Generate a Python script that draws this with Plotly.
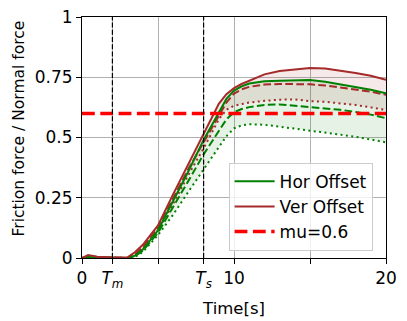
"""Friction force / normal force, Hor vs Ver offset"""
import plotly.graph_objects as go

# time axis (s)
time_s = [0, 0.4, 1, 2, 3, 3.5, 4, 5, 6, 7, 8, 9, 9.5, 10, 10.5, 11,
          12, 13, 14, 15, 16, 17, 18, 19, 20]

# Hor Offset (green): solid / dashed / dotted
hor_solid = [0, 0.004, 0.002, 0.001, 0.0, 0.01, 0.035, 0.115, 0.235, 0.36, 0.49,
             0.60, 0.66, 0.695, 0.712, 0.724, 0.733, 0.735, 0.736, 0.739,
             0.731, 0.721, 0.71, 0.698, 0.684]
hor_dashed = [0, 0.002, 0.001, 0.0, 0.0, 0.008, 0.03, 0.105, 0.21, 0.32, 0.43,
              0.53, 0.575, 0.605, 0.618, 0.626, 0.635, 0.637, 0.632, 0.626,
              0.62, 0.615, 0.606, 0.595, 0.58]
hor_dotted = [0, 0.002, 0.001, 0.0, 0.0, 0.005, 0.025, 0.095, 0.18, 0.275, 0.37,
              0.46, 0.505, 0.538, 0.55, 0.555, 0.553, 0.545, 0.537, 0.531,
              0.522, 0.512, 0.503, 0.493, 0.48]

# Ver Offset (brown): solid / dashed / dotted
ver_solid = [0, 0.012, 0.005, 0.002, 0.003, 0.025, 0.055, 0.135, 0.265, 0.39, 0.52,
             0.64, 0.68, 0.705, 0.722, 0.735, 0.762, 0.776, 0.782, 0.788,
             0.786, 0.778, 0.768, 0.756, 0.74]
ver_dashed = [0, 0.008, 0.004, 0.002, 0.0, 0.015, 0.045, 0.125, 0.245, 0.37, 0.48,
              0.59, 0.645, 0.682, 0.70, 0.71, 0.72, 0.722, 0.722, 0.721,
              0.716, 0.708, 0.70, 0.69, 0.677]
ver_dotted = [0, 0.006, 0.003, 0.001, 0.0, 0.012, 0.04, 0.115, 0.225, 0.345, 0.455,
              0.575, 0.615, 0.632, 0.64, 0.645, 0.652, 0.657, 0.658, 0.651,
              0.648, 0.643, 0.635, 0.625, 0.614]

mu = 0.6
t_m = 2
t_s = 8

x_tickvals = [0, t_m, 5, t_s, 10, 15, 20]
x_ticktext = ["0", "<i>T<sub>m</sub></i>", "", "<i>T<sub>s</sub></i>", "10", "", "20"]
y_tickvals = [0, 0.25, 0.5, 0.75, 1]
y_ticktext = ["0", "0.25", "0.5", "0.75", "1"]

GREEN = "#008000"
BROWN = "#a52a2a"
FONT = "DejaVu Sans"

fig = go.Figure()

# shaded bands (dotted -> solid)
for low, high, fc in [(ver_dotted, ver_solid, "rgba(165,42,42,0.10)"),
                      (hor_dotted, hor_solid, "rgba(0,128,0,0.10)")]:
    fig.add_trace(go.Scatter(x=time_s, y=low, mode="lines", line=dict(width=0),
                             showlegend=False, hoverinfo="skip"))
    fig.add_trace(go.Scatter(x=time_s, y=high, mode="lines", line=dict(width=0),
                             fill="tonexty", fillcolor=fc,
                             showlegend=False, hoverinfo="skip"))

dash_pat = "7.7px,3.3px"
dot_pat = "2px,3.4px"

fig.add_trace(go.Scatter(x=time_s, y=ver_dotted, mode="lines", showlegend=False,
                         line=dict(color=BROWN, width=2, dash=dot_pat)))
fig.add_trace(go.Scatter(x=time_s, y=hor_dotted, mode="lines", showlegend=False,
                         line=dict(color=GREEN, width=2, dash=dot_pat)))
fig.add_trace(go.Scatter(x=time_s, y=ver_dashed, mode="lines", showlegend=False,
                         line=dict(color=BROWN, width=2, dash=dash_pat)))
fig.add_trace(go.Scatter(x=time_s, y=hor_dashed, mode="lines", showlegend=False,
                         line=dict(color=GREEN, width=2, dash=dash_pat)))
fig.add_trace(go.Scatter(x=time_s, y=hor_solid, mode="lines", name="Hor Offset",
                         line=dict(color=GREEN, width=2)))
fig.add_trace(go.Scatter(x=time_s, y=ver_solid, mode="lines", name="Ver Offset",
                         line=dict(color=BROWN, width=2)))
fig.add_trace(go.Scatter(x=[0, 20], y=[mu, mu], mode="lines", name="mu=0.6",
                         line=dict(color="red", width=3.5, dash="12.8px,5.5px")))

for tv in [t_m, t_s]:
    fig.add_vline(x=tv, line=dict(color="black", width=1.2, dash="5px,2.2px"))

axis_common = dict(
    showline=True, mirror=True, linecolor="black", linewidth=1.1,
    showgrid=True, gridcolor="#b0b0b0", gridwidth=1.1, zeroline=False,
    ticks="outside", ticklen=5, tickcolor="black", tickwidth=1.1,
    tickfont=dict(size=17, color="black", family=FONT),
    ticklabeloverflow="allow", automargin=False,
)

fig.update_xaxes(range=[0, 20], tickmode="array", tickvals=x_tickvals,
                 ticktext=x_ticktext,
                 title=dict(text="Time[s]", standoff=12,
                            font=dict(size=16.5, color="black", family=FONT)),
                 **axis_common)
fig.update_yaxes(range=[0, 1], tickmode="array", tickvals=y_tickvals,
                 ticktext=y_ticktext, **axis_common)

# y label as an annotation so it can sit slightly above centre like the original
fig.add_annotation(text="Friction force / Normal force", textangle=-90,
                   xref="paper", yref="paper", x=0, y=0.5,
                   xanchor="center", yanchor="middle", xshift=-63.5, yshift=8.5,
                   showarrow=False,
                   font=dict(size=15.5, color="black", family=FONT))

# page body adds an 8px offset, so the figure is 8px smaller
fig.update_layout(
    width=399, height=313,
    margin=dict(l=74, r=21, t=9, b=63, autoexpand=False),
    plot_bgcolor="white", paper_bgcolor="white",
    font=dict(family=FONT, size=16, color="black"),
    legend=dict(x=0.956, xanchor="right", y=0.03, yanchor="bottom",
                traceorder="normal", itemwidth=40,
                bgcolor="rgba(255,255,255,0.8)", bordercolor="#cccccc",
                borderwidth=1, font=dict(size=17, family=FONT)),
)

fig.write_html("out.html")
